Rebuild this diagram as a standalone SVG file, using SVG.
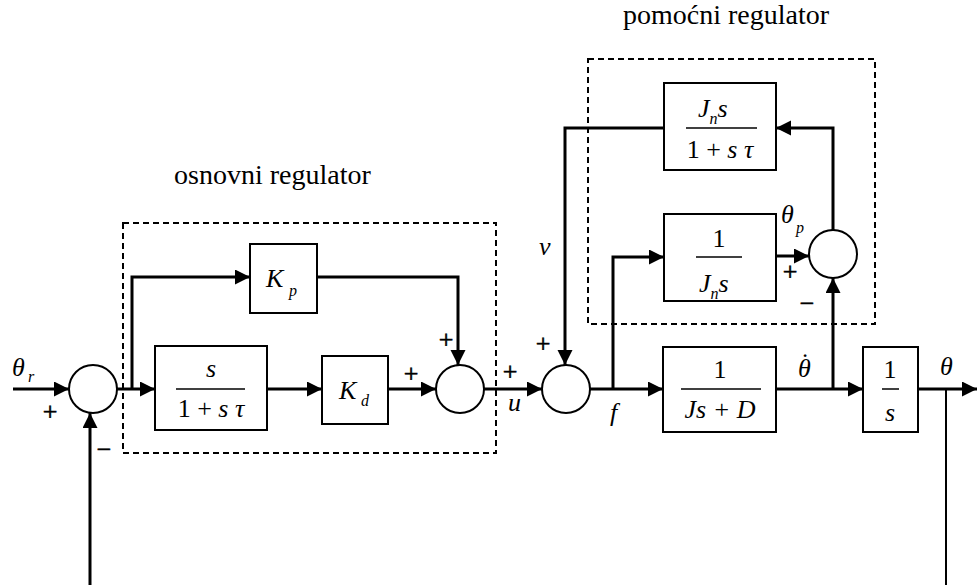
<svg xmlns="http://www.w3.org/2000/svg" width="977" height="585" viewBox="0 0 977 585" font-family="Liberation Serif, serif">
<style>
.bx{fill:#fff;stroke:#000;stroke-width:2}
.sj{fill:#fff;stroke:#000;stroke-width:2}
.ln{fill:none;stroke:#000;stroke-width:3}
.fl{stroke:#000;stroke-width:1.5}
.ds{fill:none;stroke:#000;stroke-width:2;stroke-dasharray:6,4}
text{font-family:Liberation Serif, serif;fill:#000}
.m{font-size:26px;font-style:italic}
.n{font-size:26px;font-style:normal}
.sg{font-size:26px;font-style:normal;text-anchor:middle;stroke:#000;stroke-width:0.6}
.sub{font-size:16px;font-style:italic}
.lb{font-size:28px}
.c{text-anchor:middle}
</style>
<defs>
<marker id="ar" markerUnits="userSpaceOnUse" markerWidth="16" markerHeight="16" refX="15" refY="7.5" orient="auto" viewBox="0 0 16 16">
<path d="M0,0 L15,7.5 L0,15 z" fill="#000"/>
</marker>
</defs>

<g id="osnovni">
<rect class="ds" x="123" y="223" width="373" height="230"/>
<text class="lb" x="174" y="184">osnovni regulator</text>
</g>
<g id="pomocni">
<rect class="ds" x="588" y="59" width="287" height="265"/>
<text class="lb" x="623" y="24">pomoćni regulator</text>
</g>

<g id="connectors">
<path class="ln" d="M13,389 H69" marker-end="url(#ar)"/>
<path class="ln" d="M116,389 H155" marker-end="url(#ar)"/>
<path class="ln" d="M132,389 V277 H250" marker-end="url(#ar)"/>
<path class="ln" d="M267,389 H322" marker-end="url(#ar)"/>
<path class="ln" d="M388,389 H436" marker-end="url(#ar)"/>
<path class="ln" d="M317,277 H458 V365" marker-end="url(#ar)"/>
<path class="ln" d="M484,389 H542" marker-end="url(#ar)"/>
<path class="ln" d="M590,389 H663" marker-end="url(#ar)"/>
<path class="ln" d="M613,389 V257 H664" marker-end="url(#ar)"/>
<path class="ln" d="M776,256 H809" marker-end="url(#ar)"/>
<path class="ln" d="M776,389 H863" marker-end="url(#ar)"/>
<path class="ln" d="M833,389 V278" marker-end="url(#ar)"/>
<path class="ln" d="M833,230 V128 H776" marker-end="url(#ar)"/>
<path class="ln" d="M664,128 H565 V365" marker-end="url(#ar)"/>
<path class="ln" d="M918,389 H977" marker-end="url(#ar)"/>
<path class="ln" d="M946,389 V585" style="stroke-width:2"/>
<path class="ln" d="M90,585 V413" marker-end="url(#ar)"/>
</g>

<g id="sum1"><circle class="sj" cx="93" cy="389" r="24"/></g>
<g id="sum2"><circle class="sj" cx="460" cy="389" r="24"/></g>
<g id="sum3"><circle class="sj" cx="566" cy="389" r="24"/></g>
<g id="sum4"><circle class="sj" cx="833" cy="254" r="24"/></g>

<g id="b_deriv">
<rect class="bx" x="155" y="346" width="112" height="84"/>
<text class="m c" x="211" y="377">s</text>
<line class="fl" x1="176" y1="389" x2="245" y2="389"/>
<text class="n c" x="211" y="417">1 + <tspan font-style="italic">s τ</tspan></text>
</g>
<g id="b_kd">
<rect class="bx" x="322" y="356" width="66" height="68"/>
<text class="m" x="339" y="399">K</text><text class="sub" x="361" y="406">d</text>
</g>
<g id="b_kp">
<rect class="bx" x="250" y="244" width="67" height="69"/>
<text class="m" x="266" y="287">K</text><text class="sub" x="289" y="296">p</text>
</g>
<g id="b_jns_tau">
<rect class="bx" x="664" y="83" width="112" height="87"/>
<text class="m" x="698" y="117">J<tspan class="sub" dy="7">n</tspan><tspan dy="-7">s</tspan></text>
<line class="fl" x1="686" y1="128" x2="757" y2="128"/>
<text class="n c" x="720" y="158">1 + <tspan font-style="italic">s τ</tspan></text>
</g>
<g id="b_inv_jns">
<rect class="bx" x="664" y="214" width="112" height="87"/>
<text class="n c" x="719" y="247">1</text>
<line class="fl" x1="696" y1="257" x2="742" y2="257"/>
<text class="m" x="699" y="292">J<tspan class="sub" dy="7">n</tspan><tspan dy="-7">s</tspan></text>
</g>
<g id="b_plant">
<rect class="bx" x="663" y="347" width="113" height="85"/>
<text class="n c" x="720" y="378">1</text>
<line class="fl" x1="681" y1="389" x2="761" y2="389"/>
<text class="m c" x="720" y="418">Js + D</text>
</g>
<g id="b_int">
<rect class="bx" x="863" y="347" width="55" height="85"/>
<text class="n c" x="890" y="378">1</text>
<line class="fl" x1="882" y1="389" x2="899" y2="389"/>
<text class="m c" x="890" y="421">s</text>
</g>

<g id="labels">
<text class="m" x="12" y="376">θ</text><text class="sub" x="28" y="382">r</text>
<text class="sg" x="50" y="420">+</text>
<text class="sg" x="104" y="458">−</text>
<text class="sg" x="411" y="382">+</text>
<text class="sg" x="446" y="348">+</text>
<text class="sg" x="510" y="380">+</text>
<text class="m" x="508" y="411">u</text>
<text class="sg" x="543" y="352">+</text>
<text class="m" x="539" y="255">v</text>
<text class="m" x="610" y="421">f</text>
<text class="m" x="781" y="223">θ</text><text class="sub" x="796" y="233">p</text>
<text class="sg" x="790" y="280">+</text>
<text class="sg" x="807" y="312">−</text>
<text class="m" x="798" y="377">θ<tspan dx="-10" dy="-6" font-style="normal">˙</tspan></text>
<text class="m" x="940" y="375">θ</text>
</g>
</svg>
